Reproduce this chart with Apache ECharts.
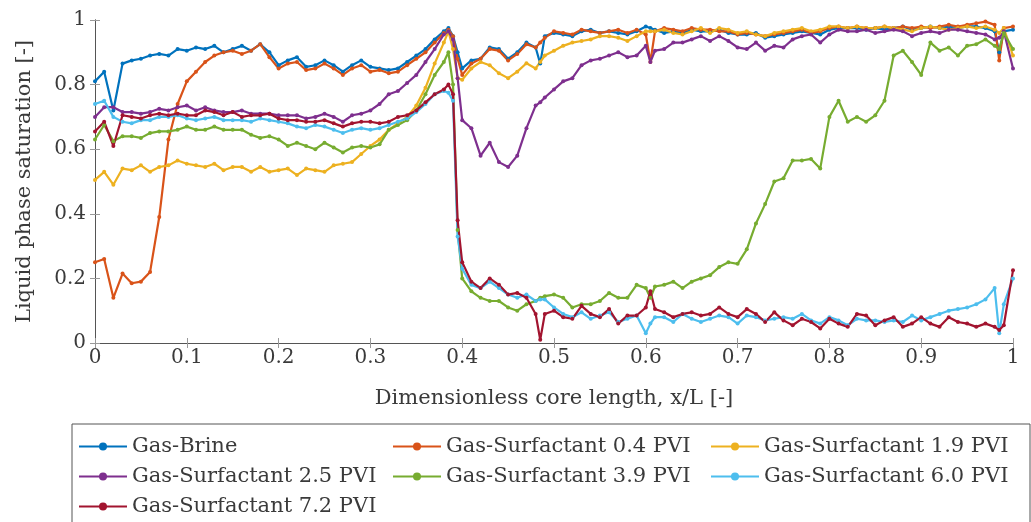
<!DOCTYPE html>
<html>
<head>
<meta charset="utf-8">
<script src="https://cdn.jsdelivr.net/npm/echarts@6/dist/echarts.min.js"></script>
<style>
  html, body { margin: 0; padding: 0; background: #fff; }
  #main { width: 1031px; height: 522px; }
</style>
</head>
<body>
<div id="main"></div>
<script>
// x/L positions (shared by all series)
var xs = [0, 0.01, 0.02, 0.03, 0.04, 0.05, 0.06, 0.07, 0.08, 0.09,
  0.10, 0.11, 0.12, 0.13, 0.14, 0.15, 0.16, 0.17, 0.18, 0.19,
  0.20, 0.21, 0.22, 0.23, 0.24, 0.25, 0.26, 0.27, 0.28, 0.29,
  0.30, 0.31, 0.32, 0.33, 0.34, 0.35, 0.36, 0.37, 0.38, 0.385,
  0.39, 0.395, 0.40, 0.41, 0.42, 0.43, 0.44, 0.45, 0.46, 0.47,
  0.48, 0.485, 0.49, 0.50, 0.51, 0.52, 0.53, 0.54, 0.55, 0.56,
  0.57, 0.58, 0.59, 0.60, 0.605, 0.61, 0.62, 0.63, 0.64, 0.65,
  0.66, 0.67, 0.68, 0.69, 0.70, 0.71, 0.72, 0.73, 0.74, 0.75,
  0.76, 0.77, 0.78, 0.79, 0.80, 0.81, 0.82, 0.83, 0.84, 0.85,
  0.86, 0.87, 0.88, 0.89, 0.90, 0.91, 0.92, 0.93, 0.94, 0.95,
  0.96, 0.97, 0.98, 0.985, 0.99, 1.0];

var gasBrine = [0.81, 0.84, 0.72, 0.865, 0.875, 0.88, 0.89, 0.895, 0.89, 0.91,
  0.905, 0.915, 0.91, 0.92, 0.90, 0.91, 0.92, 0.905, 0.925, 0.90,
  0.86, 0.875, 0.885, 0.855, 0.86, 0.875, 0.86, 0.84, 0.86, 0.875,
  0.855, 0.85, 0.845, 0.85, 0.87, 0.89, 0.91, 0.94, 0.965, 0.975,
  0.95, 0.90, 0.85, 0.875, 0.88, 0.915, 0.91, 0.88, 0.90, 0.93,
  0.915, 0.865, 0.95, 0.96, 0.955, 0.95, 0.965, 0.97, 0.96, 0.965,
  0.96, 0.955, 0.965, 0.98, 0.975, 0.97, 0.96, 0.965, 0.96, 0.97,
  0.965, 0.965, 0.97, 0.96, 0.955, 0.955, 0.96, 0.945, 0.95, 0.955,
  0.96, 0.965, 0.96, 0.955, 0.97, 0.975, 0.975, 0.975, 0.97, 0.975,
  0.97, 0.975, 0.98, 0.97, 0.975, 0.98, 0.975, 0.98, 0.975, 0.98,
  0.98, 0.975, 0.965, 0.90, 0.965, 0.97];

var surf04 = [0.25, 0.26, 0.14, 0.215, 0.185, 0.19, 0.22, 0.39, 0.63, 0.74,
  0.81, 0.84, 0.87, 0.89, 0.90, 0.905, 0.895, 0.905, 0.925, 0.885,
  0.85, 0.865, 0.87, 0.845, 0.85, 0.865, 0.85, 0.83, 0.85, 0.86,
  0.84, 0.845, 0.835, 0.84, 0.86, 0.88, 0.90, 0.93, 0.96, 0.97,
  0.95, 0.88, 0.83, 0.865, 0.88, 0.91, 0.905, 0.875, 0.895, 0.925,
  0.915, 0.93, 0.945, 0.965, 0.96, 0.955, 0.97, 0.965, 0.96, 0.965,
  0.97, 0.96, 0.97, 0.955, 0.87, 0.965, 0.975, 0.97, 0.965, 0.975,
  0.97, 0.97, 0.965, 0.965, 0.955, 0.96, 0.955, 0.95, 0.955, 0.96,
  0.965, 0.97, 0.96, 0.965, 0.975, 0.98, 0.975, 0.98, 0.975, 0.975,
  0.98, 0.975, 0.98, 0.975, 0.98, 0.975, 0.98, 0.985, 0.98, 0.985,
  0.99, 0.995, 0.985, 0.875, 0.975, 0.98];

var surf19 = [0.505, 0.53, 0.49, 0.54, 0.535, 0.55, 0.53, 0.545, 0.55, 0.565,
  0.555, 0.55, 0.545, 0.555, 0.535, 0.545, 0.545, 0.53, 0.545, 0.53,
  0.535, 0.54, 0.52, 0.54, 0.535, 0.53, 0.55, 0.555, 0.56, 0.585,
  0.61, 0.63, 0.66, 0.68, 0.70, 0.735, 0.79, 0.865, 0.93, 0.965,
  0.91, 0.82, 0.815, 0.85, 0.87, 0.86, 0.835, 0.82, 0.84, 0.866,
  0.85, 0.87, 0.89, 0.905, 0.92, 0.93, 0.935, 0.94, 0.95, 0.95,
  0.945, 0.935, 0.95, 0.965, 0.965, 0.965, 0.97, 0.96, 0.955, 0.965,
  0.975, 0.96, 0.975, 0.97, 0.96, 0.965, 0.955, 0.95, 0.96, 0.965,
  0.97, 0.975, 0.965, 0.97, 0.98, 0.98, 0.975, 0.98, 0.975, 0.975,
  0.98, 0.975, 0.97, 0.965, 0.975, 0.98, 0.975, 0.97, 0.975, 0.98,
  0.975, 0.98, 0.97, 0.96, 0.975, 0.89];

var surf25 = [0.70, 0.73, 0.73, 0.715, 0.715, 0.71, 0.715, 0.725, 0.72, 0.73,
  0.735, 0.72, 0.73, 0.72, 0.715, 0.715, 0.72, 0.71, 0.71, 0.71,
  0.705, 0.705, 0.705, 0.695, 0.70, 0.71, 0.70, 0.685, 0.705, 0.71,
  0.72, 0.74, 0.77, 0.78, 0.805, 0.83, 0.87, 0.91, 0.955, 0.965,
  0.94, 0.82, 0.69, 0.665, 0.58, 0.62, 0.56, 0.545, 0.58, 0.665,
  0.735, 0.745, 0.76, 0.785, 0.81, 0.82, 0.86, 0.875, 0.88, 0.89,
  0.90, 0.885, 0.89, 0.92, 0.87, 0.905, 0.91, 0.93, 0.93, 0.94,
  0.95, 0.935, 0.95, 0.935, 0.915, 0.91, 0.93, 0.905, 0.92, 0.915,
  0.94, 0.95, 0.955, 0.93, 0.955, 0.97, 0.965, 0.965, 0.97, 0.96,
  0.965, 0.97, 0.965, 0.95, 0.96, 0.965, 0.96, 0.97, 0.97, 0.965,
  0.96, 0.955, 0.94, 0.945, 0.965, 0.85];

var surf39 = [0.63, 0.675, 0.625, 0.64, 0.64, 0.635, 0.65, 0.655, 0.655, 0.66,
  0.67, 0.66, 0.66, 0.67, 0.66, 0.66, 0.66, 0.645, 0.635, 0.64,
  0.63, 0.61, 0.62, 0.61, 0.60, 0.62, 0.605, 0.59, 0.605, 0.61,
  0.605, 0.615, 0.66, 0.675, 0.69, 0.72, 0.77, 0.83, 0.87, 0.90,
  0.80, 0.35, 0.20, 0.16, 0.14, 0.13, 0.13, 0.11, 0.10, 0.12,
  0.13, 0.14, 0.145, 0.15, 0.14, 0.11, 0.12, 0.12, 0.13, 0.155,
  0.14, 0.14, 0.18, 0.17, 0.14, 0.175, 0.18, 0.19, 0.17, 0.19,
  0.20, 0.21, 0.235, 0.25, 0.245, 0.29, 0.37, 0.43, 0.50, 0.51,
  0.565, 0.565, 0.57, 0.54, 0.70, 0.75, 0.685, 0.70, 0.685, 0.705,
  0.75, 0.89, 0.905, 0.87, 0.83, 0.93, 0.905, 0.915, 0.89, 0.92,
  0.925, 0.94, 0.92, 0.91, 0.96, 0.91];

var surf60 = [0.74, 0.75, 0.70, 0.685, 0.68, 0.69, 0.69, 0.70, 0.70, 0.705,
  0.695, 0.69, 0.695, 0.70, 0.69, 0.69, 0.69, 0.685, 0.695, 0.69,
  0.685, 0.68, 0.67, 0.665, 0.675, 0.67, 0.66, 0.65, 0.66, 0.665,
  0.66, 0.665, 0.675, 0.685, 0.695, 0.715, 0.74, 0.77, 0.78, 0.775,
  0.75, 0.33, 0.23, 0.18, 0.17, 0.19, 0.17, 0.15, 0.14, 0.15,
  0.13, 0.135, 0.135, 0.11, 0.09, 0.08, 0.095, 0.075, 0.085, 0.095,
  0.065, 0.075, 0.085, 0.03, 0.06, 0.08, 0.08, 0.065, 0.09, 0.075,
  0.065, 0.075, 0.085, 0.08, 0.06, 0.085, 0.08, 0.07, 0.075, 0.08,
  0.075, 0.09, 0.07, 0.06, 0.08, 0.07, 0.055, 0.075, 0.07, 0.07,
  0.065, 0.07, 0.065, 0.085, 0.07, 0.08, 0.09, 0.10, 0.105, 0.11,
  0.12, 0.135, 0.17, 0.03, 0.12, 0.20];

var surf72 = [0.655, 0.685, 0.61, 0.705, 0.70, 0.695, 0.705, 0.71, 0.705, 0.71,
  0.705, 0.705, 0.72, 0.715, 0.705, 0.715, 0.70, 0.705, 0.705, 0.71,
  0.695, 0.69, 0.69, 0.685, 0.685, 0.69, 0.68, 0.67, 0.68, 0.685,
  0.685, 0.68, 0.685, 0.70, 0.705, 0.72, 0.745, 0.77, 0.785, 0.80,
  0.77, 0.38, 0.25, 0.19, 0.17, 0.20, 0.18, 0.15, 0.155, 0.14,
  0.09, 0.01, 0.09, 0.10, 0.08, 0.075, 0.115, 0.09, 0.08, 0.105,
  0.06, 0.085, 0.085, 0.11, 0.16, 0.105, 0.095, 0.08, 0.09, 0.095,
  0.085, 0.09, 0.11, 0.09, 0.08, 0.105, 0.09, 0.065, 0.095, 0.07,
  0.055, 0.075, 0.065, 0.045, 0.075, 0.06, 0.05, 0.09, 0.085, 0.055,
  0.07, 0.08, 0.05, 0.06, 0.08, 0.06, 0.05, 0.08, 0.065, 0.06,
  0.05, 0.06, 0.05, 0.04, 0.055, 0.225];

var seriesNames = ['Gas-Brine', 'Gas-Surfactant 0.4 PVI', 'Gas-Surfactant 1.9 PVI',
  'Gas-Surfactant 2.5 PVI', 'Gas-Surfactant 3.9 PVI', 'Gas-Surfactant 6.0 PVI',
  'Gas-Surfactant 7.2 PVI'];
var seriesValues = [gasBrine, surf04, surf19, surf25, surf39, surf60, surf72];
var colors = ['#0072BD', '#D95319', '#EDB120', '#7E2F8E', '#77AC30', '#4DBEEE', '#A2142F'];

var serif = 'DejaVu Serif';
var textCol = '#3a3a3a';

var myChart = echarts.init(document.getElementById('main'), null, { renderer: 'canvas' });

var series = seriesNames.map(function (name, s) {
  return {
    name: name,
    type: 'line',
    xAxisIndex: 0,
    yAxisIndex: 0,
    symbol: 'circle',
    symbolSize: 4,
    showSymbol: true,
    lineStyle: { width: 2.2, color: colors[s] },
    itemStyle: { color: colors[s] },
    data: xs.map(function (x, i) { return [x, seriesValues[s][i]]; })
  };
});

function legendCol(left, names) {
  return {
    orient: 'vertical',
    left: left,
    top: 436,
    itemWidth: 48,
    itemHeight: 10,
    itemGap: 9,
    data: names,
    textStyle: { fontFamily: serif, fontSize: 21, color: textCol },
    padding: 0
  };
}

var option = {
  animation: false,
  color: colors,
  grid: { left: 95, right: 18, top: 20, bottom: 179 },
  xAxis: [{
    type: 'value', min: 0, max: 1, interval: 0.1,
    name: 'Dimensionless core length, x/L [-]',
    nameLocation: 'middle', nameGap: 45,
    nameTextStyle: { fontFamily: serif, fontSize: 21, color: textCol },
    axisLine: { show: true, lineStyle: { color: '#555', width: 1 } },
    axisTick: { show: true, inside: true, length: 5, lineStyle: { color: '#999' } },
    axisLabel: { fontFamily: serif, fontSize: 20, color: textCol, margin: 5 },
    splitLine: { show: false }
  }, {
    type: 'value', min: 0, max: 1, interval: 0.1, position: 'top',
    axisLine: { show: true, lineStyle: { color: '#555', width: 1 } },
    axisTick: { show: true, inside: true, length: 5, lineStyle: { color: '#999' } },
    axisLabel: { show: false },
    splitLine: { show: false }
  }],
  yAxis: [{
    type: 'value', min: 0, max: 1, interval: 0.2,
    name: 'Liquid phase saturation [-]',
    nameLocation: 'middle', nameGap: 60,
    nameTextStyle: { fontFamily: serif, fontSize: 21, color: textCol },
    axisLine: { show: true, lineStyle: { color: '#555', width: 1 } },
    axisTick: { show: true, inside: true, length: 5, lineStyle: { color: '#999' } },
    axisLabel: { fontFamily: serif, fontSize: 20, color: textCol, margin: 9 },
    splitLine: { show: false }
  }, {
    type: 'value', min: 0, max: 1, interval: 0.2, position: 'right',
    axisLine: { show: true, lineStyle: { color: '#555', width: 1 } },
    axisTick: { show: true, inside: true, length: 5, lineStyle: { color: '#999' } },
    axisLabel: { show: false },
    splitLine: { show: false }
  }],
  legend: [
    legendCol(78, [seriesNames[0], seriesNames[3], seriesNames[6]]),
    legendCol(392, [seriesNames[1], seriesNames[4]]),
    legendCol(710, [seriesNames[2], seriesNames[5]])
  ],
  graphic: [{
    type: 'rect',
    shape: { x: 72, y: 424, width: 958, height: 110 },
    style: { fill: 'none', stroke: '#555', lineWidth: 1 },
    z: -1
  }],
  series: series
};

myChart.setOption(option);
</script>
</body>
</html>
